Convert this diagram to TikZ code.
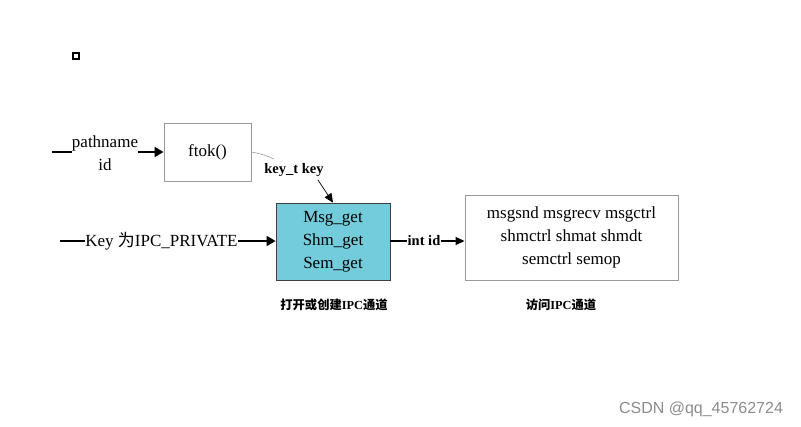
\documentclass[tikz,border=0pt]{standalone}
\usepackage{fontspec}
\setmainfont{Liberation Serif}
\setsansfont{Liberation Sans}
\newfontfamily\cjk{Noto Sans CJK SC}
\usetikzlibrary{arrows.meta,calc}
\definecolor{boxgray}{HTML}{9A9A9A}
\definecolor{cyanfill}{HTML}{72CCDC}
\definecolor{wmgray}{HTML}{8C8C8C}
\tikzset{
  txt/.style={inner sep=0pt, font=\fontsize{17}{23}\selectfont, align=center},
  lbl/.style={inner sep=0pt, font=\fontsize{14.5}{17}\selectfont\bfseries},
  captxt/.style={inner sep=0pt, font=\fontsize{12.3}{14}\selectfont\bfseries},
  plainbox/.style={draw=boxgray, line width=0.9pt, fill=white},
  arr/.style={line width=1.9pt, -{Triangle[length=9pt,width=10pt]}},
  plainline/.style={line width=1.9pt},
}
\begin{document}
\begin{tikzpicture}[x=1pt,y=-1pt]
\path[fill=white,use as bounding box] (0,0) rectangle (801,427);

% small square
\node[draw=black, line width=1.1pt, minimum size=6pt, inner sep=0pt] (sq) at (76,56) {};

% ftok box
\node[plainbox, minimum width=87pt, minimum height=58pt, txt] (ftok) at (207.5,152) {ftok()};

% pathname / id
\node[txt] (pn) at (105,153) {pathname\\id};
\coordinate (p0) at (52,152);
\draw[plainline] (p0) -- (pn.west |- p0);
\draw[arr] (pn.east |- p0) -- (ftok.west);

% Msg box
\node[draw=black!75, line width=0.8pt, fill=cyanfill, minimum width=114pt, minimum height=77pt, txt] (msg) at (333,241.5) {Msg\_get\\Shm\_get\\Sem\_get};

% key_t key label
\node[lbl] (kt) at (294,170) {key\_t key};
\draw[boxgray, line width=0.6pt] (ftok.east) .. controls (262,154) and (268,156) .. ($(kt.north west)+(10,-4)$);
\draw[line width=0.7pt, -{Triangle[length=9pt,width=8pt]}] ($(kt.south east)+(-6,3)$) -- (msg.north);

% Key IPC_PRIVATE
\node[txt] (kp) at (161.5,241) {Key {\cjk 为}IPC\_PRIVATE};
\coordinate (k0) at (60,241);
\draw[plainline] (k0) -- (kp.west);
\draw[arr] (kp.east) -- (msg.west |- kp.east);

% access box
\node[plainbox, minimum width=213pt, minimum height=85pt, txt] (acc) at (571.5,237.5) {msgsnd msgrecv msgctrl\\shmctrl shmat shmdt\\semctrl semop};

% int id
\node[lbl] (iid) at (424,241) {int id};
\draw[line width=1.2pt] (msg.east |- iid) -- (iid.west);
\draw[line width=1.2pt, -{Triangle[length=9pt,width=8pt]}] (iid.east) -- (acc.west |- iid);

% captions
\node[captxt] (c1) at (334,305) {{\cjk\bfseries 打开或创建}IPC{\cjk\bfseries 通道}};
\node[captxt] (c2) at (561,305) {{\cjk\bfseries 访问}IPC{\cjk\bfseries 通道}};

% watermark
\node[inner sep=0pt, font=\sffamily\fontsize{16}{18}\selectfont, text=wmgray] (wm) at (701,409) {CSDN @qq\_45762724};
\end{tikzpicture}
\end{document}
